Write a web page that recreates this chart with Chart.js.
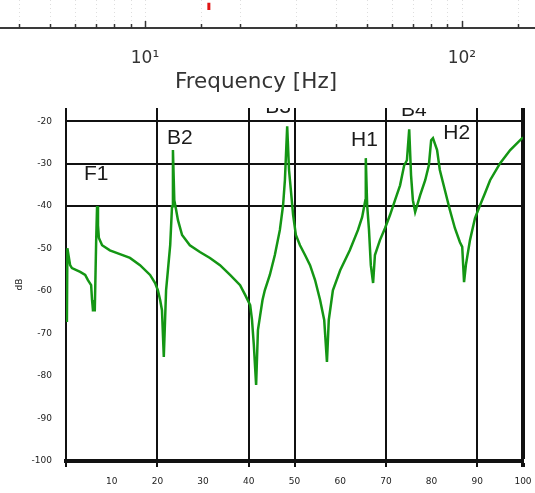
<!DOCTYPE html>
<html>
<head>
<meta charset="utf-8">
<script src="https://cdn.jsdelivr.net/npm/chart.js@4"></script>
<style>
	html, body { margin: 0; padding: 0; background: #fff; }
	#wrap { position: relative; width: 535px; height: 493px; overflow: hidden; }
	#topBox { position: absolute; left: -23px; top: 0; width: 558px; height: 108px; }
	#mainBox { position: absolute; left: 0; top: 108px; width: 535px; height: 385px; }
</style>
</head>
<body>
<div id="wrap">
	<div id="topBox"><canvas id="topChart"></canvas></div>
	<div id="mainBox"><canvas id="mainChart"></canvas></div>
</div>
<script>
// Top strip: bottom of a log frequency axis (rest of that plot is cropped off)
const freqMin = 2.95;
const freqMax = 170;
const decadeValues = [10, 100];
const decadeLabels = ['10\u00b9', '10\u00b2'];
const markerFreq = [15.9, 15.9];
const markerLevel = [0.9, 0.64];

// Main plot: green response curve
const freqUnits = [
	0.2, 0.3, 0.9, 1.3, 3.1, 4.2, 4.8, 5.5, 5.7, 5.9,
	6.3, 6.6, 6.8, 7.0, 7.2, 7.9, 9.6, 11.8, 14.0, 16.2,
	18.4, 19.5, 20.1, 20.6, 21.0, 21.4, 21.9, 22.3, 22.8, 23.2,
	23.4, 23.7, 24.1, 24.5, 25.4, 27.1, 29.3, 31.5, 33.7, 35.9,
	38.1, 39.2, 40.3, 40.7, 41.1, 41.6, 42.0, 42.5, 43.0, 43.5,
	44.6, 45.7, 46.8, 47.5, 47.9, 48.4, 48.8, 49.2, 49.7, 50.3,
	51.2, 52.3, 53.4, 54.5, 55.6, 56.5, 57.1, 57.5, 58.4, 60.0,
	62.1, 63.9, 64.8, 65.5, 65.6, 65.9, 66.3, 66.7, 67.2, 67.6,
	68.7, 69.8, 70.9, 72.0, 73.1, 74.0, 74.6, 75.1, 75.5, 75.9,
	76.4, 77.5, 78.6, 79.4, 79.9, 80.3, 81.2, 81.8, 82.9, 84.0,
	85.1, 86.2, 86.7, 87.1, 87.5, 88.4, 89.5, 90.6, 91.7, 92.8,
	95.0, 97.2, 100
];
const levelDb = [
	-67.3, -49.9, -53.9, -54.6, -55.5, -56.2, -57.4, -58.6, -62.1, -64.5,
	-64.5, -48.2, -40.0, -44.5, -47.5, -49.2, -50.4, -51.3, -52.2, -53.9,
	-56.2, -58.1, -59.8, -62.1, -64.5, -75.5, -59.8, -55.1, -49.2, -40.0,
	-26.8, -38.6, -40.9, -43.3, -46.8, -49.2, -50.8, -52.2, -53.9, -56.2,
	-58.6, -60.9, -63.3, -66.8, -72.7, -82.1, -69.2, -65.6, -62.1, -59.8,
	-56.2, -51.5, -45.6, -39.8, -33.9, -21.2, -31.5, -36.2, -42.1, -46.8,
	-49.2, -51.5, -53.9, -57.4, -62.1, -66.8, -76.7, -66.8, -59.8, -55.1,
	-50.4, -45.6, -42.6, -38.6, -28.7, -39.8, -45.6, -53.9, -58.1, -51.5,
	-48.0, -45.2, -42.1, -38.6, -35.1, -30.4, -29.2, -21.9, -32.7, -38.6,
	-41.4, -37.4, -33.9, -30.4, -24.5, -24.0, -26.8, -31.5, -36.2, -40.9,
	-45.2, -48.5, -49.6, -57.9, -53.9, -48.0, -42.8, -39.8, -36.9, -33.9,
	-29.9, -26.8, -23.8
];

// Peak annotations
const peakNames = ['F1', 'B2', 'B3', 'H1', 'B4', 'H2'];
const peakX = [6.6, 24.9, 46.4, 65.3, 76.1, 85.5];
const peakY = [-32.5, -24.0, -16.7, -24.5, -17.4, -22.8];

// Which ticks get a black grid line
const gridX = [0, 20, 40, 50, 70, 90, 100];
const gridY = [-20, -30, -40];
const yMin = -100;
const yTop = -16.9;

// scales add label padding around the plot; we want the plot area fixed
function noEdgePadding(s) {
	s.paddingLeft = 0;
	s.paddingRight = 0;
	s.paddingTop = 0;
	s.paddingBottom = 0;
}

// dotted grid + inward tick marks for the log axis
const innerTicks = {
	id: 'innerTicks',
	beforeDatasetsDraw(chart) {
		const sx = chart.scales.x;
		const area = chart.chartArea;
		const ctx = chart.ctx;
		ctx.save();
		sx.ticks.forEach(t => {
			if (t.value <= freqMin || t.value >= freqMax) return;
			const px = Math.round(sx.getPixelForValue(t.value)) + 0.5;
			const major = decadeValues.includes(t.value);
			ctx.strokeStyle = '#dedede';
			ctx.lineWidth = 1;
			ctx.setLineDash([1, 3]);
			ctx.beginPath();
			ctx.moveTo(px, area.top);
			ctx.lineTo(px, area.bottom);
			ctx.stroke();
			ctx.setLineDash([]);
			ctx.strokeStyle = '#333';
			ctx.lineWidth = 1.5;
			ctx.beginPath();
			ctx.moveTo(px, area.bottom);
			ctx.lineTo(px, area.bottom - (major ? 7 : 4));
			ctx.stroke();
		});
		ctx.restore();
	}
};

const peakLabels = {
	id: 'peakLabels',
	afterDatasetsDraw(chart) {
		const { ctx, scales: { x, y } } = chart;
		ctx.save();
		ctx.font = '21px "Liberation Sans", Arial, sans-serif';
		ctx.fillStyle = '#1a1a1a';
		ctx.textAlign = 'center';
		ctx.textBaseline = 'middle';
		peakNames.forEach((name, i) => {
			ctx.fillText(name, x.getPixelForValue(peakX[i]), y.getPixelForValue(peakY[i]));
		});
		ctx.restore();
	}
};

new Chart(document.getElementById('topChart'), {
	type: 'line',
	data: {
		datasets: [{
			data: markerFreq.map((f, i) => ({ x: f, y: markerLevel[i] })),
			borderColor: '#e01515',
			borderWidth: 3,
			pointRadius: 0
		}]
	},
	options: {
		responsive: true,
		maintainAspectRatio: false,
		animation: false,
		layout: { padding: 0 },
		plugins: { legend: { display: false }, tooltip: { enabled: false } },
		scales: {
			x: {
				type: 'logarithmic',
				min: freqMin,
				max: freqMax,
				afterFit(s) { s.height = 80; noEdgePadding(s); },
				grid: { display: false },
				border: { color: '#3a3a3a', width: 2 },
				ticks: {
					autoSkip: false,
					maxRotation: 0,
					padding: 12,
					color: '#333',
					font: { family: 'DejaVu Sans', size: 17 },
					callback(v) {
						const i = decadeValues.indexOf(v);
						return i >= 0 ? decadeLabels[i] : '';
					}
				},
				title: {
					display: true,
					text: 'Frequency [Hz]',
					color: '#333',
					font: { family: 'DejaVu Sans', size: 21.5 },
					padding: { top: 0, bottom: 13 }
				}
			},
			y: { display: false, min: 0, max: 1 }
		}
	},
	plugins: [innerTicks]
});

new Chart(document.getElementById('mainChart'), {
	type: 'line',
	data: {
		datasets: [{
			data: freqUnits.map((x, i) => ({ x: x, y: levelDb[i] })),
			borderColor: '#149614',
			borderWidth: 2.5,
			pointRadius: 0,
			tension: 0
		}]
	},
	options: {
		responsive: true,
		maintainAspectRatio: false,
		animation: false,
		layout: { padding: { left: 0, right: 12, top: 0, bottom: 0 } },
		plugins: { legend: { display: false }, tooltip: { enabled: false } },
		scales: {
			x: {
				type: 'linear',
				min: 0,
				max: 100,
				afterFit(s) { s.height = 32; noEdgePadding(s); },
				ticks: {
					stepSize: 10,
					autoSkip: false,
					maxRotation: 0,
					padding: 9,
					color: '#222',
					font: { family: 'DejaVu Sans', size: 9 },
					callback: v => (v === 0 ? '' : String(v))
				},
				grid: {
					color: c => (c.tick && gridX.includes(c.tick.value) ? '#111' : 'rgba(0,0,0,0)'),
					lineWidth: c => (c.tick && c.tick.value === 100 ? 4 : 2),
					tickLength: 6
				},
				border: { color: '#111', width: 4 }
			},
			y: {
				min: yMin,
				max: yTop,
				afterFit(s) { s.width = 66; noEdgePadding(s); },
				ticks: {
					stepSize: 10,
					includeBounds: false,
					padding: 14,
					color: '#222',
					font: { family: 'DejaVu Sans', size: 9 }
				},
				grid: {
					color: c => (c.tick && gridY.includes(c.tick.value) ? '#111' : 'rgba(0,0,0,0)'),
					lineWidth: 2,
					drawTicks: false
				},
				border: { color: '#111', width: 2 },
				title: {
					display: true,
					text: 'dB',
					color: '#222',
					font: { family: 'DejaVu Sans', size: 9 },
					padding: { top: 14, bottom: 0 }
				}
			}
		}
	},
	plugins: [peakLabels]
});
</script>
</body>
</html>
